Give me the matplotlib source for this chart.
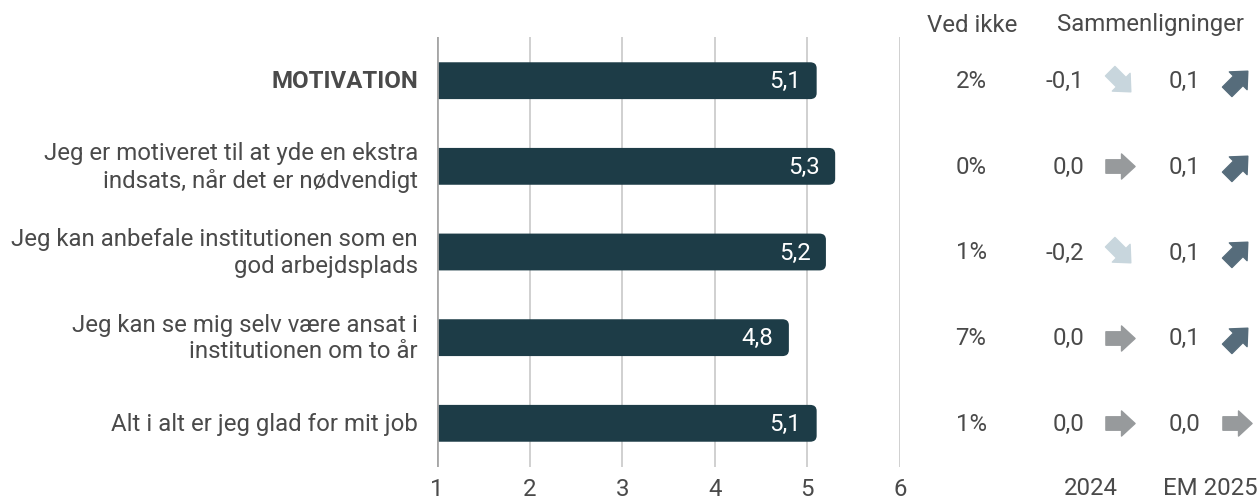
import matplotlib
matplotlib.use("Agg")
import matplotlib.pyplot as plt
from matplotlib.patches import FancyBboxPatch
from matplotlib.path import Path
from matplotlib.markers import MarkerStyle
from matplotlib.transforms import Affine2D, blended_transform_factory

plt.rcParams['font.family'] = ['Roboto', 'DejaVu Sans']

# data
labels = ["MOTIVATION",
          "Jeg er motiveret til at yde en ekstra\nindsats, når det er nødvendigt",
          "Jeg kan anbefale institutionen som en\ngod arbejdsplads",
          "Jeg kan se mig selv være ansat i\ninstitutionen om to år",
          "Alt i alt er jeg glad for mit job"]
scores = [5.1, 5.3, 5.2, 4.8, 5.1]
ved_ikke = [2, 0, 1, 7, 1]
diff_2024 = [-0.1, 0.0, -0.2, 0.0, 0.0]
diff_em = [0.1, 0.1, 0.1, 0.1, 0.0]
ticks = [1, 2, 3, 4, 5, 6]
col_titles = ["Ved ikke", "Sammenligninger", "2024", "EM 2025"]

text_col = "#4a4a4a"
bar_col = "#1d3c47"
fs = 17.3


def fmt(v):
    return f"{v:.1f}".replace(".", ",")


# block arrow marker pointing right
arrow_path = Path([(-1, -0.46), (0.07, -0.46), (0.07, -0.86), (1, 0),
                   (0.07, 0.86), (0.07, 0.46), (-1, 0.46), (-1, -0.46)],
                  [Path.MOVETO] + [Path.LINETO] * 6 + [Path.CLOSEPOLY])


def arrow_style(d):
    if d > 0:
        return 45, "#566c7b"
    if d < 0:
        return -45, "#c8d6dd"
    return 0, "#979a9c"


fig = plt.figure(figsize=(12.6, 5.02), dpi=100)
W, H = 1260, 502
ax = fig.add_axes([437 / W, (H - 468) / H, 463 / W, 430 / H])

ax.set_xlim(1, 6)
ax.set_ylim(len(labels) - 0.49, -0.51)
for s in ax.spines.values():
    s.set_visible(False)
ax.set_yticks([])
ax.set_xticks(ticks)
ax.set_xticklabels([str(t) for t in ticks], fontsize=fs, color=text_col)
ax.tick_params(axis="x", length=0, pad=7)

for t in ticks:
    if t == 1:
        ax.axvline(t, color="#a6a6a6", lw=2, zorder=3)
    else:
        ax.axvline(t, color="#c4c4c4", lw=1.1, zorder=0)

bh = 0.43
for i, v in enumerate(scores):
    p = FancyBboxPatch((0.8, i - bh / 2), v - 0.8, bh,
                       boxstyle="round,pad=0,rounding_size=0.07",
                       mutation_aspect=1.0, fc=bar_col, ec="none", zorder=2)
    ax.add_patch(p)
    ax.annotate(fmt(v), (v, i), xytext=(-11, 0), textcoords="offset points",
                ha="right", va="center", color="white", fontsize=fs, zorder=4)

tr = blended_transform_factory(fig.transFigure, ax.transData)
for i, lab in enumerate(labels):
    ax.text(418 / W, i, lab, transform=tr, ha="right", va="center",
            multialignment="right", fontsize=fs, color=text_col,
            fontweight="bold" if i == 0 else "normal", linespacing=1.2)
    ax.text(971 / W, i, f"{ved_ikke[i]}%", transform=tr, ha="center",
            va="center", fontsize=fs, color=text_col)
    ax.text(1084 / W, i, fmt(diff_2024[i]), transform=tr, ha="right",
            va="center", fontsize=fs, color=text_col)
    ax.text(1200 / W, i, fmt(diff_em[i]), transform=tr, ha="right",
            va="center", fontsize=fs, color=text_col)
    for x, d in ((1120, diff_2024[i]), (1237, diff_em[i])):
        ang, c = arrow_style(d)
        m = MarkerStyle(arrow_path, transform=Affine2D().rotate_deg(ang))
        ax.plot([x / W], [i], transform=tr, marker=m, markersize=21,
                color=c, clip_on=False, ls="none")

fig.text(972 / W, 1 - 25 / H, col_titles[0], ha="center", va="center",
         fontsize=fs, color=text_col)
fig.text(1151 / W, 1 - 25 / H, col_titles[1], ha="center", va="center",
         fontsize=fs, color=text_col)
fig.text(1091 / W, 1 - 489 / H, col_titles[2], ha="center", va="center",
         fontsize=fs, color=text_col)
fig.text(1210 / W, 1 - 489 / H, col_titles[3], ha="center", va="center",
         fontsize=fs, color=text_col)

fig.savefig("out.png", dpi=100)
